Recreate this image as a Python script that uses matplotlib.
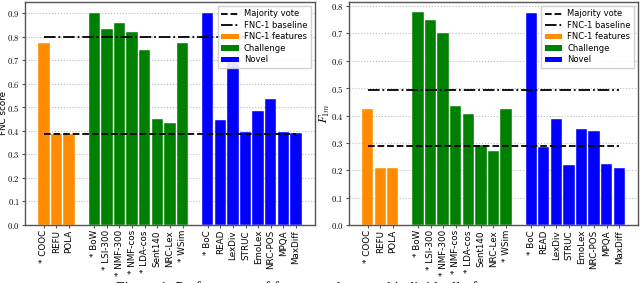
import matplotlib
matplotlib.use("Agg")
import matplotlib.pyplot as plt
from matplotlib.patches import Patch
from matplotlib.lines import Line2D
import numpy as np

plt.rcParams['mathtext.fontset'] = 'cm'

fnc_features = ["* COOC", "REFU", "POLA"]
challenge = ["* BoW", "* LSI-300", "* NMF-300", "* NMF-cos", "* LDA-cos", "Sent140", "NRC-Lex", "* WSim"]
novel = ["* BoC", "READ", "LexDiv", "STRUC", "EmoLex", "NRC-POS", "MPQA", "MaxDiff"]

fnc_left = [0.772, 0.388, 0.388]
chal_left = [0.900, 0.833, 0.856, 0.820, 0.743, 0.448, 0.433, 0.771]
novel_left = [0.900, 0.444, 0.692, 0.396, 0.483, 0.535, 0.393, 0.389]
majority_left = 0.388
baseline_left = 0.797

fnc_right = [0.423, 0.209, 0.209]
chal_right = [0.778, 0.749, 0.701, 0.435, 0.407, 0.291, 0.272, 0.425]
novel_right = [0.773, 0.284, 0.386, 0.221, 0.349, 0.343, 0.223, 0.210]
majority_right = 0.288
baseline_right = 0.493

colors = ["darkorange", "green", "blue"]
group_names = ["FNC-1 features", "Challenge", "Novel"]

x1 = np.arange(len(fnc_features))
x2 = np.arange(len(challenge)) + len(fnc_features) + 1
x3 = np.arange(len(novel)) + x2[-1] + 2
labels = fnc_features + challenge + novel
xs = np.concatenate([x1, x2, x3])

fig = plt.figure(figsize=(6.4, 2.83), dpi=100)
ax1 = fig.add_axes([0.039, 0.205, 0.453, 0.788])
ax2 = fig.add_axes([0.545, 0.205, 0.452, 0.788])

def draw(ax, vals, maj, base, ylim, yticks, ylabel, labx, labsize):
    ax.set_axisbelow(True)
    ax.yaxis.grid(True, linestyle=':', color='#bbbbbb', linewidth=0.8)
    for xg, v, c in zip([x1, x2, x3], vals, colors):
        ax.bar(xg, v, width=0.9, color=c, edgecolor='white', linewidth=0.3)
    ax.hlines(maj, xs[0], xs[-1], colors='black', linestyles='--', linewidth=1.3)
    ax.hlines(base, xs[0], xs[-1], colors='black', linestyles='-.', linewidth=1.3)
    ax.set_xlim(-1.5, xs[-1] + 1.5)
    ax.set_ylim(*ylim)
    ax.set_yticks(yticks)
    ax.set_yticklabels([f"${t:.1f}$" for t in yticks], fontsize=6.2)
    ax.set_xticks(xs)
    ax.set_xticklabels(labels, rotation=90, fontsize=6.3)
    ax.set_ylabel(ylabel, fontsize=labsize)
    ax.yaxis.set_label_coords(labx, 0.5)
    ax.tick_params(axis='both', length=2.5, pad=1.2, color='#555555')
    for s in ax.spines.values():
        s.set_color('#555555')
        s.set_linewidth(1.0)
    handles = [Line2D([], [], color='black', linestyle='--', linewidth=1.3),
               Line2D([], [], color='black', linestyle='-.', linewidth=1.3)] + \
              [Patch(facecolor=c) for c in colors]
    names = ["Majority vote", "FNC-1 baseline"] + group_names
    ax.legend(handles, names, loc='upper right',
              fontsize=6.0, handlelength=2.1, handletextpad=0.6,
              borderpad=0.4, labelspacing=0.3,
              framealpha=0.9, edgecolor='#cccccc', fancybox=False)

draw(ax1, [fnc_left, chal_left, novel_left], majority_left, baseline_left,
     (0, 0.947), np.arange(0, 0.91, 0.1), "FNC score", -0.057, 6.3)
draw(ax2, [fnc_right, chal_right, novel_right], majority_right, baseline_right,
     (0, 0.815), np.arange(0, 0.81, 0.1), r"$F_{1m}$", -0.058, 8.5)

fig.text(0.473, 0.005, "Figure 1: Performance of features when used individually for",
         ha='center', va='top', fontsize=11, family='Liberation Serif')

fig.savefig("out.png", dpi=100)
